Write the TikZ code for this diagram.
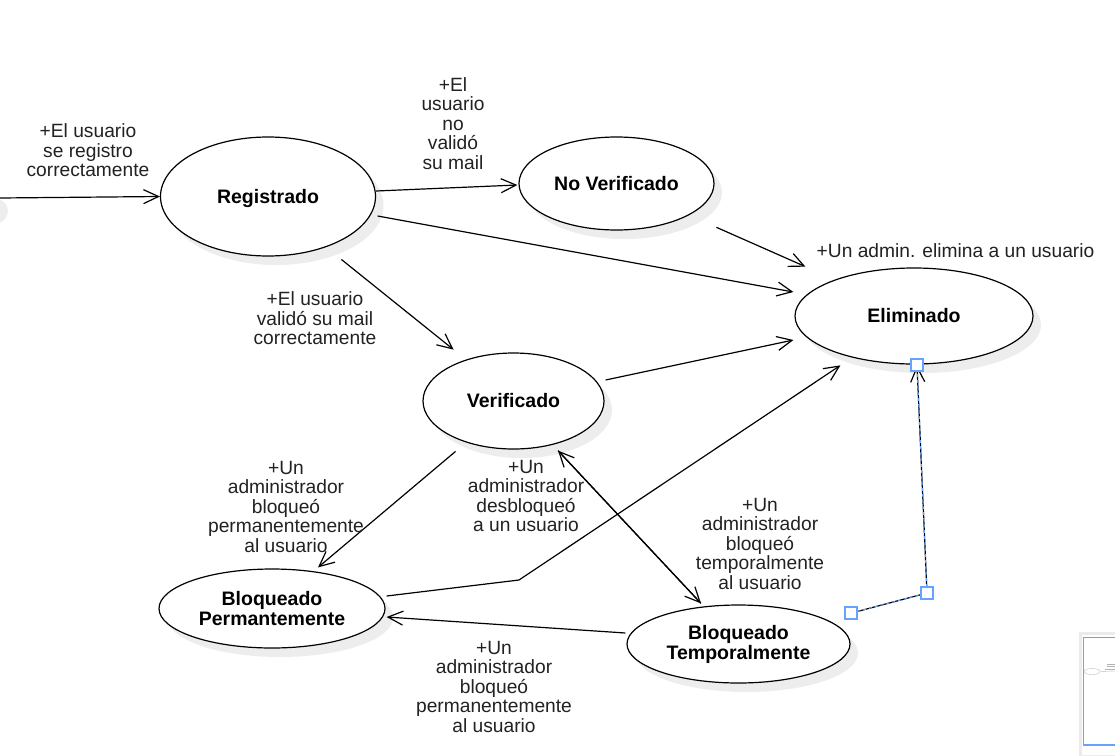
\documentclass[tikz,border=0pt]{standalone}
\usepackage{fontspec}
\setmainfont{Liberation Sans}
\usepackage{tikz}
\usetikzlibrary{arrows.meta}
\usetikzlibrary{shapes.geometric}
\usetikzlibrary{shadows}
\usepackage{xcolor}
\definecolor{sel}{RGB}{102,163,255}
\definecolor{texto}{RGB}{34,34,34}

\tikzset{
  estado/.style={ellipse, draw, line width=1.2pt, fill=white, inner sep=0pt,
    general shadow={fill=black!7, shadow xshift=8pt, shadow yshift=-9pt},
    align=center, font=\fontsize{19.5}{20}\selectfont\bfseries},
  etiqueta/.style={align=center, text=texto, inner sep=0pt,
    font=\fontsize{19.2}{19.5}\selectfont},
  trans/.style={->, line width=1.2pt},
  asa/.style={rectangle, draw=sel, line width=1.8pt, fill=white,
    minimum size=12pt, inner sep=0pt}
}

\begin{document}
\begin{tikzpicture}[x=1pt, y=-1pt, >={Straight Barb[length=15pt,width=14pt]}]
        \useasboundingbox (0,0) rectangle (1115,755);
        \clip (0,0) rectangle (1115,755);
        \fill[white] (0,0) rectangle (1115,755);

        % Draw the states
        \fill[black!7] (-4,211) circle (12);
        \coordinate (inicio) at (0,198);
        \node[estado, minimum width=215pt, minimum height=119pt, text depth=0pt] (reg) at (268,196.5) {Registrado};
        \node[estado, minimum width=195pt, minimum height=93pt]  (nover) at (616.5,183.5) {No Verificado};
        \node[estado, minimum width=238pt, minimum height=96pt]  (elim)  at (914,316) {Eliminado};
        \node[estado, minimum width=181pt, minimum height=96pt]  (ver)   at (513.5,401) {Verificado};
        \node[estado, minimum width=226pt, minimum height=79pt]  (bperm) at (272,608.5) {Bloqueado\\Permantemente};
        \node[estado, minimum width=223pt, minimum height=78pt]  (btemp) at (738.5,644) {Bloqueado\\Temporalmente};

        % Draw the transitions
        \draw[trans] (inicio) -- (reg.west);
        \draw[trans] ([shift={(0,-5.5)}]reg.east) -- ([shift={(-1,1.5)}]nover.west);
        \draw[trans] ([shift={(1.5,19.5)}]reg.east) -- ([shift={(-1,-24)}]elim.west);
        \draw[trans] ([shift={(30.5,10.5)}]nover.south east) -- ([shift={(-24,-15)}]elim.north west);
        \draw[trans] ([shift={(-3,20.5)}]reg.south east) -- ([shift={(4.5,-17)}]ver.north west);
        \draw[trans] ([shift={(1,-21)}]ver.east) -- ([shift={(-1,24)}]elim.west);
        \draw[trans] ([shift={(6.5,16)}]ver.south west) -- ([shift={(46,-1)}]bperm.north);
        \draw[trans] ([shift={(44.5,1)}]ver.south) -- ([shift={(-37.5,-1)}]btemp.north);
        \draw[trans] ([shift={(-37.5,-1)}]btemp.north) -- ([shift={(44.5,1)}]ver.south);
        \coordinate (codo) at (519,580);
        \draw[trans] ([shift={(1,-12.5)}]bperm.east) -- (codo) -- ([shift={(11,15)}]elim.south west);
        \draw[trans] ([shift={(-1,-11)}]btemp.west) -- ([shift={(1,8.5)}]bperm.east);

        % The selected transition
        \coordinate (codoB) at (927,593);
        \draw[trans] ([shift={(1,-31)}]btemp.east) -- (codoB) -- ([shift={(3,1)}]elim.south);
        \draw[sel, line width=1pt, dash pattern=on 3pt off 3pt] ([shift={(1,-31)}]btemp.east) -- (codoB) -- ([shift={(3,1)}]elim.south);
        \node[asa] (asa1) at (917,365) {};
        \node[asa] (asa2) at (927,593) {};
        \node[asa] (asa3) at (851,613) {};

        % Annotate the transitions
        \node[etiqueta] (lregistro)  at (88,150.5)  {+El usuario\\se registro\\correctamente};
        \node[etiqueta] (lnovalido)  at (453,123.5) {+El\\usuario\\no\\validó\\su mail};
        \node[etiqueta] (lelimina)   at (955.5,251) {+Un admin. elimina a un usuario};
        \node[etiqueta] (lvalido)    at (315,318.5) {+El usuario\\validó su mail\\correctamente};
        \node[etiqueta] (lperm)      at (286,506.5) {+Un\\administrador\\bloqueó\\permanentemente\\al usuario};
        \node[etiqueta] (ldesbloq)   at (526,496)   {+Un\\administrador\\desbloqueó\\a un usuario};
        \node[etiqueta] (ltemp)      at (760,543.5) {+Un\\administrador\\bloqueó\\temporalmente\\al usuario};
        \node[etiqueta] (lpermB)     at (494,686.5) {+Un\\administrador\\bloqueó\\permanentemente\\al usuario};

        % Draw the thumbnail
        \fill[black!8] (1079,632) rectangle (1116,756);
        \fill[white] (1082,635) rectangle (1116,755);
        \draw[sel, line width=1.5pt] (1083.5,637.5) rectangle (1118,745);
        \draw[black!25, fill=white] (1092,671.5) ellipse (8 and 3);
        \draw[black!25] (1100,671.5) -- (1115,671);
        \draw[black!30] (1107,664) -- (1115,664);
        \draw[black!30] (1107,666.5) -- (1115,666.5);
        \draw[black!30] (1105,669) -- (1115,669);
    \end{tikzpicture}
\end{document}
